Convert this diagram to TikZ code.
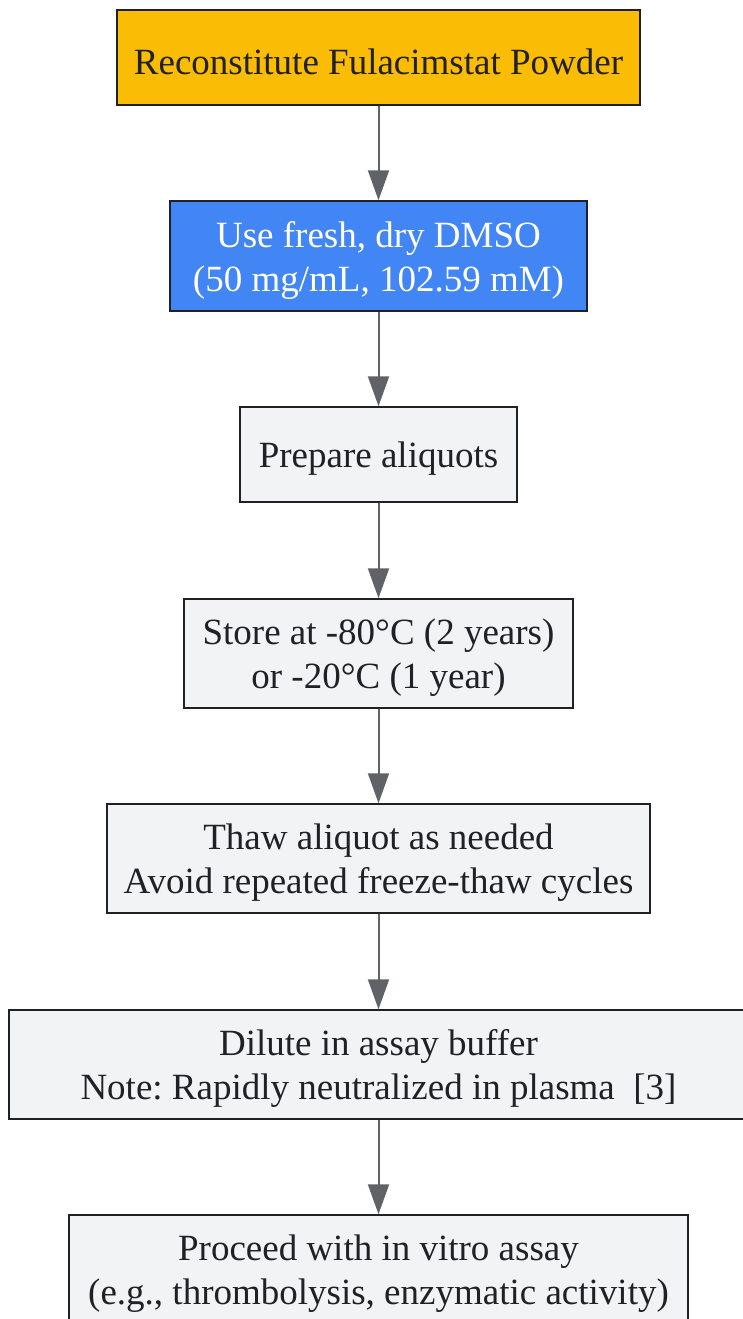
\documentclass[tikz,border=0pt]{standalone}
\usepackage{fontspec}
\setmainfont{Liberation Serif}
\usetikzlibrary{arrows.meta}
\frenchspacing
\definecolor{gyellow}{HTML}{FBBC05}
\definecolor{gblue}{HTML}{4285F4}
\definecolor{ggray}{HTML}{F1F3F4}
\definecolor{gtext}{HTML}{202124}
\definecolor{garrow}{HTML}{5F6368}
% push the first line down a little
\newcommand{\droptext}{\rule{0pt}{\dimexpr\fontcharht\font`\(+10pt\relax}}
\tikzset{
  stepbox/.style={draw=gtext, line width=1.5pt, fill=ggray, text=gtext, align=center,
    font=\fontsize{37}{44}\selectfont, inner sep=0pt},
  flow/.style={draw=garrow, line width=2pt, -{Triangle[length=30pt,width=21pt]}}
}

\begin{document}
\begin{tikzpicture}[x=1pt, y=-1pt]
      \useasboundingbox (0, 0) rectangle (742, 1319);
      \node[stepbox, fill=gyellow, minimum width=523pt, minimum height=95pt] (recon) at (378.5, 57.5) {\droptext Reconstitute Fulacimstat Powder};
      \node[stepbox, fill=gblue, text=white, minimum width=417pt, minimum height=110pt] (dmso) at (378.5, 256) {\droptext Use fresh, dry DMSO\\(50 mg/mL, 102.59 mM)};
      \node[stepbox, minimum width=277pt, minimum height=95pt] (aliq) at (378.5, 454.5) {\droptext Prepare aliquots};
      \node[stepbox, minimum width=389pt, minimum height=109pt] (store) at (378.5, 653.5) {\droptext Store at -80°C (2 years)\\or -20°C (1 year)};
      \node[stepbox, minimum width=543pt, minimum height=109pt] (thaw) at (378.5, 858.5) {\droptext Thaw aliquot as needed\\Avoid repeated freeze-thaw cycles};
      \node[stepbox, minimum width=739pt, minimum height=109pt] (dilute) at (378.5, 1064.5) {\droptext Dilute in assay buffer\\Note: Rapidly neutralized in plasma\ \ [3]};
      \node[stepbox, minimum width=619pt, minimum height=109pt] (assay) at (378.5, 1269.5) {\droptext Proceed with in vitro assay\\(e.g., thrombolysis, enzymatic activity)};

      \draw[flow] (recon) -- (dmso);
      \draw[flow] (dmso) -- (aliq);
      \draw[flow] (aliq) -- (store);
      \draw[flow] (store) -- (thaw);
      \draw[flow] (thaw) -- (dilute);
      \draw[flow] (dilute) -- (assay);
    \end{tikzpicture}
\end{document}
